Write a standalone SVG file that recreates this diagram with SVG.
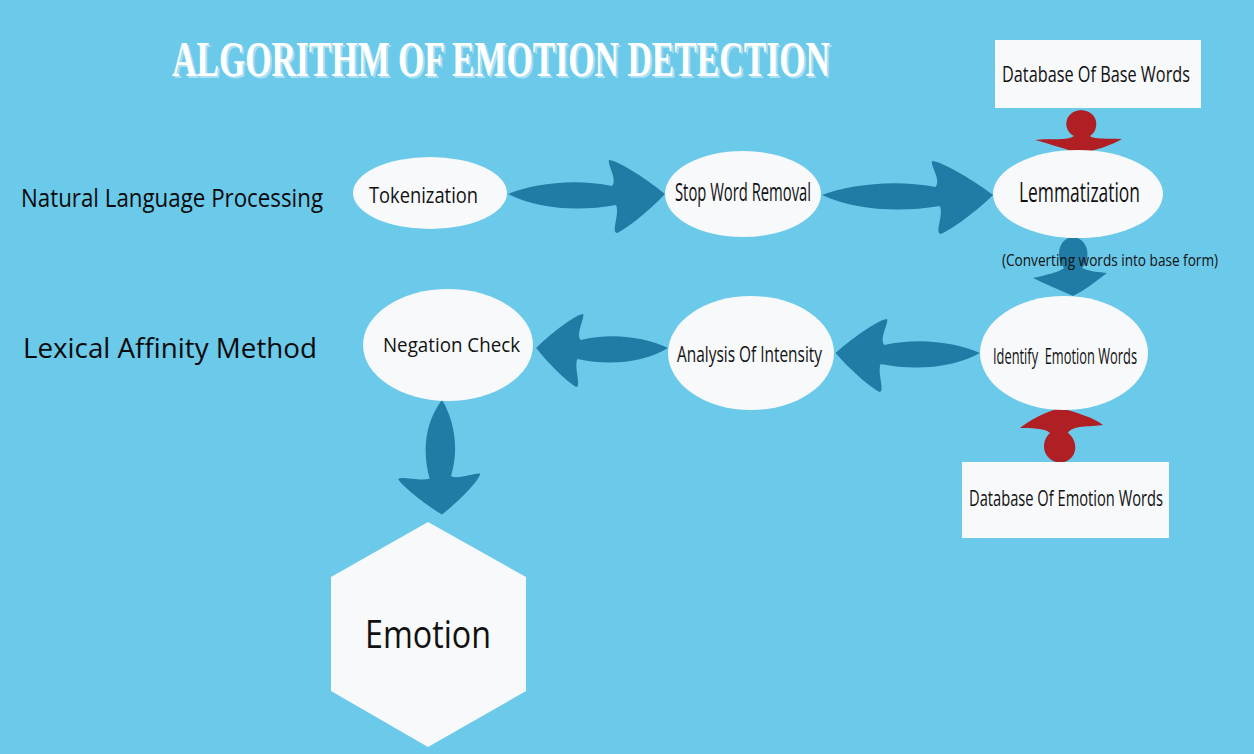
<svg xmlns="http://www.w3.org/2000/svg" width="1254" height="754" viewBox="0 0 1254 754">
<style>
.bg{fill:#6bc9ea}
.node{fill:#f8f9fb}
.arr{fill:#207ba5}
.red{fill:#b01f24}
.t{font-family:"Open Sans","Noto Sans","Liberation Sans",sans-serif;fill:#111}
.side{font-family:"Open Sans","Noto Sans","Liberation Sans",sans-serif;fill:#0a0a0a}
.title{font-family:"Liberation Serif","DejaVu Serif",serif;font-weight:bold;font-size:50px}
</style>
<defs>
<path id="rarrow" d="M0,0 C25,-10 65,-16 104,-8 C110,-14 99,-30 101,-34 C108,-34 135,-18 157,0 C143,15 120,34 109,39 C103,38 112,20 108,11 C70,18 30,15 0,0 Z"/>
</defs>
<rect class="bg" x="0" y="0" width="1254" height="754"/>

<g id="title">
<text class="title" x="174" y="78" fill="#a9dff2" textLength="658" lengthAdjust="spacingAndGlyphs">ALGORITHM OF EMOTION DETECTION</text>
<text class="title" x="172" y="76" fill="#ffffff" textLength="658" lengthAdjust="spacingAndGlyphs">ALGORITHM OF EMOTION DETECTION</text>
</g>

<g id="side-labels">
<text class="side" x="21" y="207" font-size="25" textLength="302" lengthAdjust="spacingAndGlyphs">Natural Language Processing</text>
<text class="side" x="23" y="358" font-size="28" textLength="294" lengthAdjust="spacingAndGlyphs">Lexical Affinity Method</text>
</g>

<g id="connectors">
<use href="#rarrow" class="arr" transform="translate(508,194)"/>
<use href="#rarrow" class="arr" transform="translate(822,195) scale(1.09,1)"/>
<use href="#rarrow" class="arr" transform="translate(980,353) scale(-0.92,1)"/>
<use href="#rarrow" class="arr" transform="translate(668,348) scale(-0.84,1)"/>
<use href="#rarrow" class="arr" transform="translate(442,400) rotate(90) scale(0.73,1.12)"/>
<path class="arr" d="M1073,237 C1088,238 1092,258 1082,268 C1090,272 1100,272 1107,273 C1095,282 1085,290 1073,296 C1060,290 1045,284 1033,278 C1045,275 1058,273 1064,268 C1055,258 1058,238 1073,237 Z"/>
<path class="red" d="M1074,136 C1062,130 1064,111 1081,110 C1099,111 1100,130 1090,136 C1095,140 1110,138 1122,139 C1110,146 1095,150 1081,154 C1068,150 1050,144 1035,140 C1050,138 1068,141 1074,136 Z"/>
<path class="red" d="M1060,408 C1075,412 1095,418 1103,425 C1090,427 1072,425 1068,433 C1078,440 1080,460 1060,463 C1042,460 1040,442 1050,433 C1045,428 1030,428 1020,428 C1030,420 1045,412 1060,408 Z"/>
<text class="t" x="1002" y="266" font-size="17" textLength="216" lengthAdjust="spacingAndGlyphs">(Converting words into base form)</text>
</g>

<g id="db-base">
<rect class="node" x="995" y="40" width="206" height="68"/>
<text class="t" x="1002" y="82" font-size="22" textLength="188" lengthAdjust="spacingAndGlyphs">Database Of Base Words</text>
</g>

<g id="tokenization">
<ellipse class="node" cx="430" cy="193" rx="77" ry="36"/>
<text class="t" x="369" y="203" font-size="22" textLength="109" lengthAdjust="spacingAndGlyphs">Tokenization</text>
</g>

<g id="stop-word-removal">
<ellipse class="node" cx="743" cy="194" rx="78" ry="43"/>
<text class="t" x="675" y="201" font-size="25" textLength="136" lengthAdjust="spacingAndGlyphs">Stop Word Removal</text>
</g>

<g id="lemmatization">
<ellipse class="node" cx="1078" cy="194" rx="85" ry="44"/>
<text class="t" x="1019" y="202" font-size="28" textLength="121" lengthAdjust="spacingAndGlyphs">Lemmatization</text>
</g>

<g id="identify-emotion-words">
<ellipse class="node" cx="1064" cy="353" rx="84" ry="57"/>
<text class="t" x="993" y="364" font-size="22" textLength="144" lengthAdjust="spacingAndGlyphs" xml:space="preserve">Identify  Emotion Words</text>
</g>

<g id="analysis-of-intensity">
<ellipse class="node" cx="751" cy="353" rx="83" ry="57"/>
<text class="t" x="677" y="362" font-size="22" textLength="145" lengthAdjust="spacingAndGlyphs">Analysis Of Intensity</text>
</g>

<g id="negation-check">
<ellipse class="node" cx="448" cy="345" rx="85" ry="56"/>
<text class="t" x="383" y="352" font-size="20" textLength="137" lengthAdjust="spacingAndGlyphs">Negation Check</text>
</g>

<g id="db-emotion">
<rect class="node" x="962" y="462" width="207" height="76"/>
<text class="t" x="969" y="506" font-size="22" textLength="194" lengthAdjust="spacingAndGlyphs">Database Of Emotion Words</text>
</g>

<g id="emotion">
<polygon class="node" points="428,522 526,577 526,691 428,747 331,691 331,577"/>
<text class="t" x="365" y="648" font-size="38" textLength="126" lengthAdjust="spacingAndGlyphs">Emotion</text>
</g>
</svg>
